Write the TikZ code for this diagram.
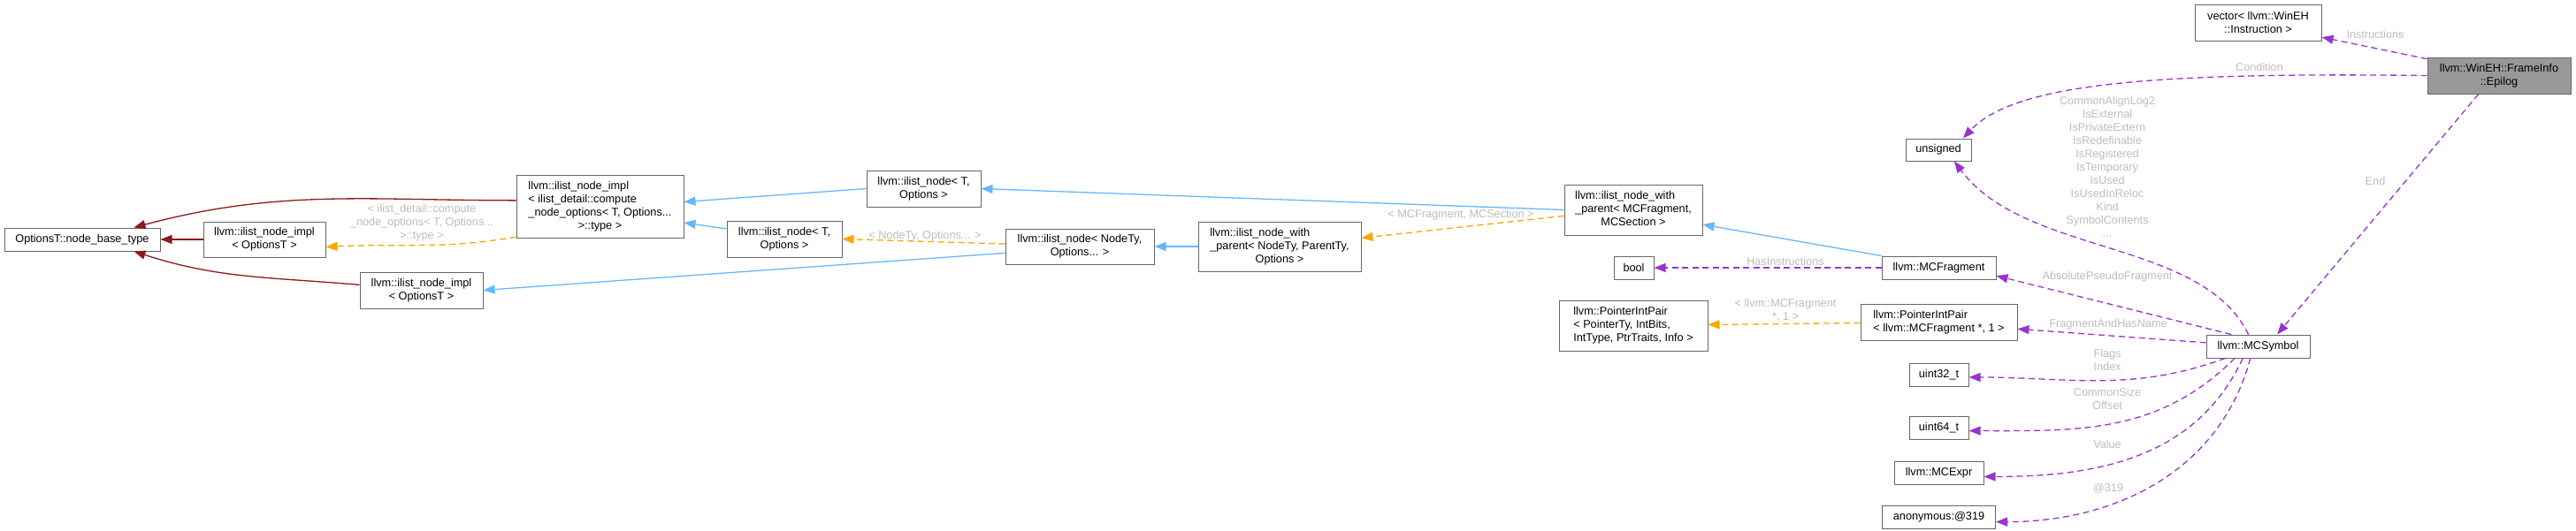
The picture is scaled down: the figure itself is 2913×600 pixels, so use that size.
\documentclass[tikz,border=0pt]{standalone}
\usepackage{fontspec}
\setmainfont{Liberation Sans}
\usetikzlibrary{positioning,arrows.meta}
\definecolor{DoxBorder}{RGB}{102,102,102}
\definecolor{DoxMain}{RGB}{153,153,153}
\definecolor{DoxRed}{RGB}{139,26,26}
\definecolor{DoxBlue}{RGB}{99,184,255}
\definecolor{DoxOrange}{RGB}{255,165,0}
\definecolor{DoxPurple}{RGB}{154,50,205}
\definecolor{DoxGrey}{RGB}{188,188,188}
\newcommand{\doxfont}{\fontsize{12.7}{15}\selectfont}
\newcommand{\leftlines}[1]{\begin{tabular}{@{}l@{}}#1\end{tabular}}
\newcommand{\lastline}[1]{\multicolumn{1}{@{}c@{}}{#1}}
\tikzset{
  dox box/.style={
    draw=DoxBorder,
    fill=white,
    line width=1pt,
    inner sep=0pt,
    align=center,
    font=\doxfont
  },
  dox main/.style={dox box, fill=DoxMain},
  dox wh/.style 2 args={minimum width=#1, minimum height=#2},
  dox edge/.style={-{Triangle[length=13pt,width=10pt]}, line width=1.3pt},
  dox base/.style={dox edge, DoxRed},
  dox inherit/.style={dox edge, DoxBlue},
  dox templ/.style={dox edge, DoxOrange, dash pattern=on 7pt off 4.5pt},
  dox use/.style={dox edge, DoxPurple, dash pattern=on 7pt off 4.5pt},
  dox label/.style={font=\doxfont, text=DoxGrey, align=center, inner sep=0pt}
}
\begin{document}
\begin{tikzpicture}[x=1pt,y=-1pt]
\useasboundingbox (0,0) rectangle (2913,600);
\node[dox box, dox wh={176}{26}] (base) at (93,271) {OptionsT::node\_base\_type};
\node[dox box, dox wh={138}{40}] (implA) at (299,271) {llvm::ilist\_node\_impl\\< OptionsT >};
\node[dox box, dox wh={189}{71}] (implC) at (678.5,233.5) {\leftlines{llvm::ilist\_node\_impl\\< ilist\_detail::compute\\\_node\_options< T, Options...\\\lastline{>::type >}}};
\node[dox box, dox wh={139}{41}] (implB) at (476.5,328.5) {llvm::ilist\_node\_impl\\< OptionsT >};
\node[dox box, dox wh={129}{41}] (nodeA) at (1044.5,213.5) {llvm::ilist\_node< T,\\Options >};
\node[dox box, dox wh={130}{41}] (nodeB) at (887,270.5) {llvm::ilist\_node< T,\\Options >};
\node[dox box, dox wh={168}{40}] (nodeN) at (1221,279) {llvm::ilist\_node< NodeTy,\\Options... >};
\node[dox box, dox wh={184}{56}] (parentN) at (1447,279) {\leftlines{llvm::ilist\_node\_with\\\_parent< NodeTy, ParentTy,\\\lastline{Options >}}};
\node[dox box, dox wh={156}{57}] (parentF) at (1847,237.5) {\leftlines{llvm::ilist\_node\_with\\\_parent< MCFragment,\\\lastline{MCSection >}}};
\node[dox box, dox wh={45}{26}] (flag) at (1847.5,303) {bool};
\node[dox box, dox wh={168}{57}] (pairT) at (1847,368.5) {\leftlines{llvm::PointerIntPair\\< PointerTy, IntBits,\\\lastline{IntType, PtrTraits, Info >}}};
\node[dox box, dox wh={129}{26}] (frag) at (2192.5,303) {llvm::MCFragment};
\node[dox box, dox wh={177}{41}] (pairF) at (2192.5,364.5) {\leftlines{llvm::PointerIntPair\\< llvm::MCFragment *, 1 >}};
\node[dox box, dox wh={67}{26}, below=25pt of pairF] (u32) {uint32\_t};
\node[dox box, dox wh={67}{26}, below=33pt of u32] (u64) {uint64\_t};
\node[dox box, dox wh={101}{26}, below=24pt of u64] (expr) {llvm::MCExpr};
\node[dox box, dox wh={128}{26}, below=23pt of expr] (anon) {anonymous:@319};
\node[dox box, dox wh={74}{25}] (unsig) at (2192,169.5) {unsigned};
\node[dox box, dox wh={117}{26}] (sym) at (2553.5,392) {llvm::MCSymbol};
\node[dox box, dox wh={143}{41}] (vec) at (2553.5,25.5) {vector< llvm::WinEH\\::Instruction >};
\node[dox main, dox wh={162}{41}] (epi) at (2826,85.5) {llvm::WinEH::FrameInfo\\::Epilog};
\draw[dox base] (implC.176) to[out=180,in=15] (base.13);
\draw[dox base] (implA) -- (base);
\draw[dox base] (implB.175) to[out=175,in=-18] (base.-13);
\draw[dox templ] (implC.200) to[out=190,in=3] (implA.-7);
\draw[dox inherit] (nodeA.west) -- (implC.3);
\draw[dox inherit] (nodeB.170) -- (implC.-11);
\draw[dox inherit] (nodeN.185) -- (implB.east);
\draw[dox templ] (nodeN.178) -- (nodeB.east);
\draw[dox inherit] (parentN) -- (nodeN);
\draw[dox inherit] (parentF.west) -- (nodeA.east);
\draw[dox templ] (parentF.185) -- (parentN.6);
\draw[dox inherit] (frag.north west) -- (parentF.-12);
\draw[dox use] (frag) -- (flag);
\draw[dox templ] (pairF) -- (pairT);
\draw[dox use] (sym.156) -- (frag.-8);
\draw[dox use] (sym.176) -- (pairF.-5);
\draw[dox use] (sym.200) to[out=200,in=0] (u32.-5);
\draw[dox use] (sym.207) to[out=225,in=0] (u64.-6);
\draw[dox use] (sym.218) to[out=245,in=0] (expr.-5);
\draw[dox use] (sym.237) to[out=255,in=0] (anon.-5);
\draw[dox use] (sym.129) .. controls (2490,270) and (2290,290) .. (unsig.-36);
\draw[dox use] (epi.west) .. controls (2450,82) and (2280,92) .. (unsig.25);
\draw[dox use] (epi.167) -- (vec.-13);
\draw[dox use] (epi.-138) -- (sym.32);
\node[dox label] (lblCompute) at (477,252) {< ilist\_detail::compute\\\_node\_options< T, Options...\\>::type >};
\node[dox label] (lblNodeTy) at (1046,267) {< NodeTy, Options... >};
\node[dox label] (lblSection) at (1652,243) {< MCFragment, MCSection >};
\node[dox label] (lblHasInstr) at (2019,296) {HasInstructions};
\node[dox label] (lblPair) at (2019,351) {< llvm::MCFragment\\*, 1 >};
\node[dox label] (lblAbs) at (2383,313) {AbsolutePseudoFragment};
\node[dox label] (lblFragName) at (2384,367) {FragmentAndHasName};
\node[dox label] (lblFlags) at (2383,407) {Flags\\Index};
\node[dox label] (lblSize) at (2383,451) {CommonSize\\Offset};
\node[dox label] (lblValue) at (2383,503) {Value};
\node[dox label] (lblAnon) at (2384,553) {@319};
\node[dox label] (lblFields) at (2383,188.5) {CommonAlignLog2\\IsExternal\\IsPrivateExtern\\IsRedefinable\\IsRegistered\\IsTemporary\\IsUsed\\IsUsedInReloc\\Kind\\SymbolContents\\...};
\node[dox label] (lblCond) at (2555,76) {Condition};
\node[dox label] (lblInstr) at (2686,39) {Instructions};
\node[dox label] (lblEnd) at (2686,205) {End};
\end{tikzpicture}
\end{document}
